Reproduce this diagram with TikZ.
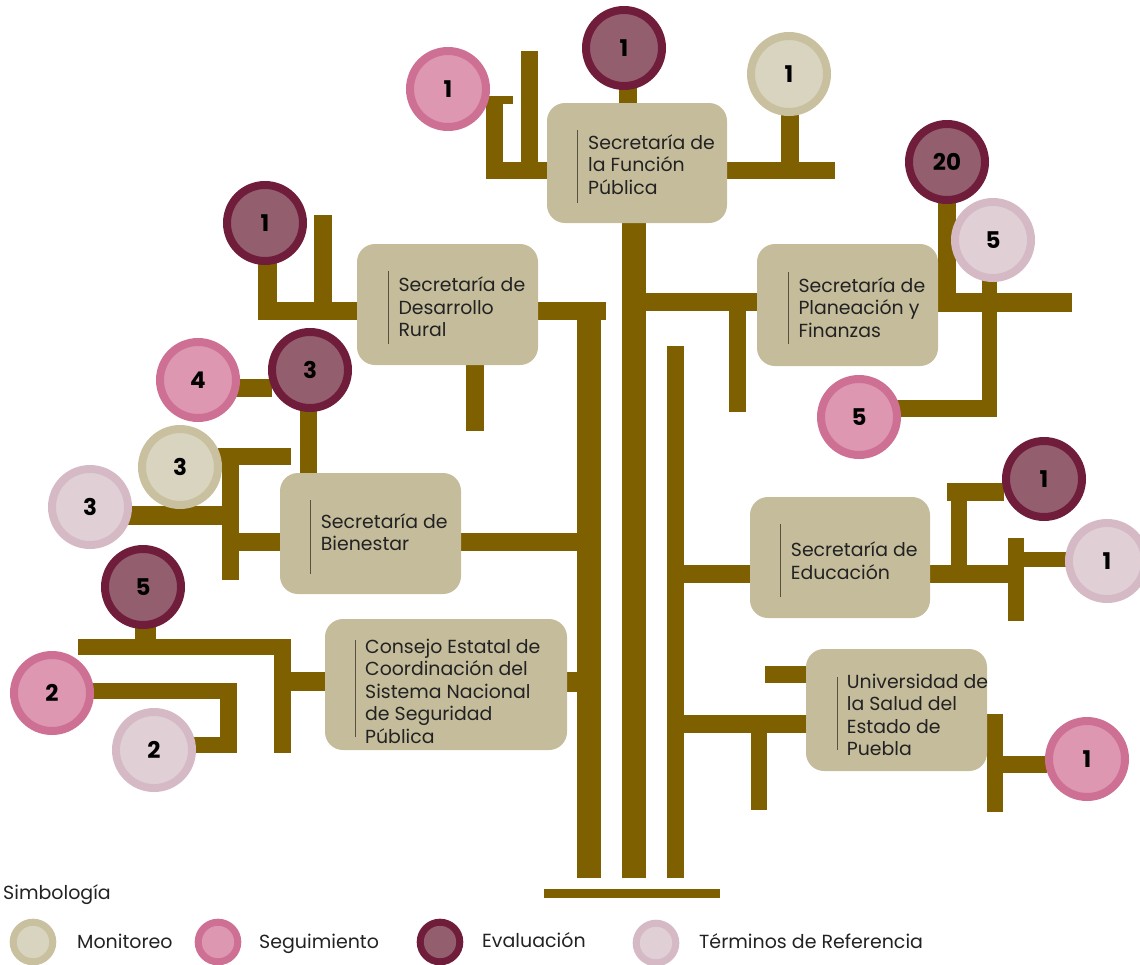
\documentclass[tikz,border=0pt]{standalone}
\usepackage{fontspec}
\setmainfont{Poppins}
\definecolor{barc}{HTML}{7F6000}
\definecolor{boxc}{HTML}{C4BC9B}
\definecolor{txtc}{HTML}{222222}
\definecolor{lnc}{HTML}{5A5040}
\definecolor{monring}{HTML}{C8C09E}
\definecolor{monfill}{HTML}{D8D4BF}
\definecolor{segring}{HTML}{CD7093}
\definecolor{segfill}{HTML}{DD97B0}
\definecolor{evaring}{HTML}{701C3B}
\definecolor{evafill}{HTML}{935F6E}
\definecolor{tdrring}{HTML}{D5BAC6}
\definecolor{tdrfill}{HTML}{E0D0D6}
\begin{document}
\begin{tikzpicture}[x=1pt,y=-1pt,
  bar/.style={fill=barc},
  orgbox/.style={fill=boxc, draw=none, rounded corners=18pt, inner sep=0pt},
  boxtxt/.style={inner sep=0pt, anchor=base west, text=txtc, font=\fontsize{18.9}{22.6}\selectfont},
  textbar/.style={draw=lnc, line width=1pt},
  badge/.style={circle, inner sep=0pt, minimum size=76pt, line width=8pt, text=black, font=\fontsize{23}{23}\selectfont\bfseries},
  mon/.style={badge, draw=monring, fill=monfill},
  seg/.style={badge, draw=segring, fill=segfill},
  eva/.style={badge, draw=evaring, fill=evafill},
  tdr/.style={badge, draw=tdrring, fill=tdrfill},
  legbadge/.style={circle, inner sep=0pt, minimum size=39.6pt, line width=7pt},
  legtxt/.style={inner sep=0pt, anchor=base west, text=txtc, font=\fontsize{19}{22}\selectfont}
]
\useasboundingbox (0,0) rectangle (1140,964);

% ---------- bars ----------
% Funcion Publica
\fill[bar] (619,86) rectangle (637,103);
\fill[bar] (486,96) rectangle (513,104);
\fill[bar] (486,96) rectangle (503,179);
\fill[bar] (521,51) rectangle (538,179);
\fill[bar] (486,162) rectangle (547,179);
\fill[bar] (727,162) rectangle (835,179);
\fill[bar] (781,110) rectangle (799,162);
\fill[bar] (622,223) rectangle (646,878);
% Desarrollo Rural
\fill[bar] (258,258) rectangle (277,318);
\fill[bar] (258,302) rectangle (357,320);
\fill[bar] (314,215) rectangle (332,302);
\fill[bar] (538,302) rectangle (606,320);
\fill[bar] (577,302) rectangle (601,878);
\fill[bar] (466,365) rectangle (484,431);
% Planeacion
\fill[bar] (646,293) rectangle (757,311);
\fill[bar] (729,311) rectangle (746,412);
\fill[bar] (938,293) rectangle (1072,312);
\fill[bar] (938,200) rectangle (956,293);
\fill[bar] (982,276) rectangle (997,417);
\fill[bar] (895,400) rectangle (997,417);
\fill[bar] (667,346) rectangle (684,878);
% 4 - 3 and Bienestar
\fill[bar] (236,379) rectangle (272,397);
\fill[bar] (300,408) rectangle (317,473);
\fill[bar] (218,448) rectangle (291,465);
\fill[bar] (222,448) rectangle (239,580);
\fill[bar] (128,506) rectangle (222,525);
\fill[bar] (239,533) rectangle (280,551);
\fill[bar] (461,533) rectangle (577,551);
% Consejo
\fill[bar] (135,624) rectangle (156,640);
\fill[bar] (78,639) rectangle (291,655);
\fill[bar] (274,639) rectangle (291,753);
\fill[bar] (291,672) rectangle (325,691);
\fill[bar] (90,683) rectangle (237,699);
\fill[bar] (220,683) rectangle (237,753);
\fill[bar] (193,737) rectangle (237,753);
\fill[bar] (567,672) rectangle (577,692);
% Educacion
\fill[bar] (684,565) rectangle (750,583);
\fill[bar] (930,565) rectangle (1008,583);
\fill[bar] (1008,538) rectangle (1024,621);
\fill[bar] (1024,552) rectangle (1067,567);
\fill[bar] (951,483) rectangle (967,565);
\fill[bar] (947,483) rectangle (1004,501);
% Universidad
\fill[bar] (765,666) rectangle (806,683);
\fill[bar] (684,715) rectangle (806,733);
\fill[bar] (751,733) rectangle (767,810);
\fill[bar] (987,714) rectangle (1003,812);
\fill[bar] (1003,756) rectangle (1047,773);
% base
\fill[bar] (544,889) rectangle (720,898);

% ---------- boxes ----------
\node[orgbox, minimum width=180pt, minimum height=120pt] (fp) at (637,163) {};
\node[orgbox, minimum width=181pt, minimum height=121pt] (dr) at (447.5,304.5) {};
\node[orgbox, minimum width=181pt, minimum height=122pt] (pf) at (847.5,305) {};
\node[orgbox, minimum width=181pt, minimum height=121pt] (bi) at (370.5,533.5) {};
\node[orgbox, minimum width=180pt, minimum height=121pt] (ed) at (840,557.5) {};
\node[orgbox, minimum width=242pt, minimum height=131pt] (ce) at (446,684.5) {};
\node[orgbox, minimum width=181pt, minimum height=122pt] (us) at (896.5,710) {};

% text bars
\draw[textbar] (577.7,130) -- (577.7,203);
\draw[textbar] (388.3,271) -- (388.3,344);
\draw[textbar] (788.3,272) -- (788.3,344);
\draw[textbar] (310.7,500) -- (310.7,574);
\draw[textbar] (780.7,524) -- (780.7,597);
\draw[textbar] (355.7,640) -- (355.7,737);
\draw[textbar] (837.7,677) -- (837.7,750);

% texts
\node[boxtxt] (fpt) at (588,149) {\begin{tabular}[t]{@{}l@{}}Secretaría de\\la Función\\Pública\end{tabular}};
\node[boxtxt] (drt) at (398.3,291.7) {\begin{tabular}[t]{@{}l@{}}Secretaría de\\Desarrollo\\Rural\end{tabular}};
\node[boxtxt] (pft) at (798.3,292) {\begin{tabular}[t]{@{}l@{}}Secretaría de\\Planeación y\\Finanzas\end{tabular}};
\node[boxtxt] (bit) at (320.7,528) {\begin{tabular}[t]{@{}l@{}}Secretaría de\\Bienestar\end{tabular}};
\node[boxtxt] (edt) at (790.7,556.7) {\begin{tabular}[t]{@{}l@{}}Secretaría de\\Educación\end{tabular}};
\node[boxtxt] (cet) at (365,653) {\begin{tabular}[t]{@{}l@{}}Consejo Estatal de\\Coordinación del\\Sistema Nacional\\de Seguridad\\Pública\end{tabular}};
\node[boxtxt] (ust) at (846.7,688) {\begin{tabular}[t]{@{}l@{}}Universidad de\\la Salud del\\Estado de\\Puebla\end{tabular}};

% ---------- badges ----------
\node[seg] (c1) at (448,89) {1};
\node[eva] (c2) at (624,48) {1};
\node[mon] (c3) at (789,74) {1};
\node[eva] (c4) at (265,223) {1};
\node[eva] (c5) at (947,162) {20};
\node[tdr] (c6) at (993,240) {5};
\node[seg] (c7) at (859,417) {5};
\node[seg] (c8) at (198,380) {4};
\node[eva] (c9) at (310,370) {3};
\node[mon] (c10) at (180,467) {3};
\node[tdr] (c11) at (90,507) {3};
\node[eva] (c12) at (143,587) {5};
\node[seg] (c13) at (52,693) {2};
\node[tdr] (c14) at (154,750) {2};
\node[eva] (c15) at (1044,479) {1};
\node[tdr] (c16) at (1107,561) {1};
\node[seg] (c17) at (1087,759) {1};

% ---------- legend ----------
\node[legtxt] (simb) at (3,899) {Simbología};
\node[legbadge, draw=monring, fill=monfill] (l1) at (33,942) {};
\node[legtxt] (l1t) at (77,948) {Monitoreo};
\node[legbadge, draw=segring, fill=segfill] (l2) at (218,942) {};
\node[legtxt] (l2t) at (259,948) {Seguimiento};
\node[legbadge, draw=evaring, fill=evafill] (l3) at (440,942) {};
\node[legtxt] (l3t) at (482,947) {Evaluación};
\node[legbadge, draw=tdrring, fill=tdrfill] (l4) at (656,943) {};
\node[legtxt] (l4t) at (699,948) {Términos de Referencia};
\end{tikzpicture}
\end{document}
